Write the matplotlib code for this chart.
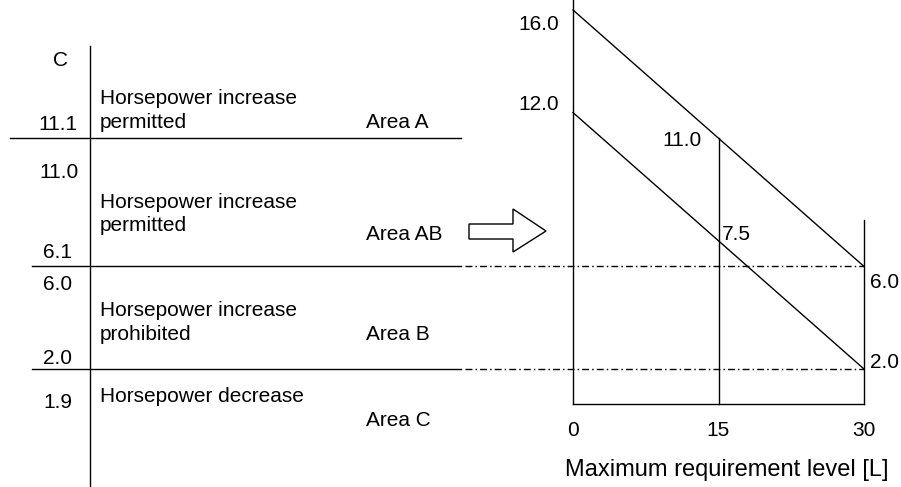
import matplotlib
matplotlib.use("Agg")
import matplotlib.pyplot as plt  # noqa: E402
from matplotlib.patches import Polygon  # noqa: E402
from matplotlib.transforms import blended_transform_factory  # noqa: E402

plt.rcParams["font.family"] = ["Liberation Sans", "DejaVu Sans"]

# ---- data -----------------------------------------------------------------
C_LABELS = ["11.1", "11.0", "6.1", "6.0", "2.0", "1.9"]
BOUNDS = [11.0, 6.0, 2.0]                       # area boundaries on the C scale
REGION_TEXT = ["Horsepower increase\npermitted",
               "Horsepower increase\npermitted",
               "Horsepower increase\nprohibited",
               "Horsepower decrease"]
AREA_NAMES = ["Area A", "Area AB", "Area B", "Area C"]

L_TICKS = [0, 15, 30]
UPPER_X, UPPER_Y = [0, 30], [16.0, 6.0]
LOWER_X, LOWER_Y = [0, 30], [12.0, 2.0]
MID_L, MID_C = 15, 11.0                          # vertical at L=15 up to upper line
LEFT_LABELS = ["16.0", "12.0"]
MID_LABELS = ["11.0", "7.5"]
RIGHT_LABELS = ["6.0", "2.0"]
XLABEL = "Maximum requirement level [L]"

FS = 15
LW = 1.0
W, H = 901, 487

fig = plt.figure(figsize=(W / 100, H / 100), dpi=100)

# background axes in pixel units (layout of the left table)
bg = fig.add_axes([0, 0, 1, 1])
bg.set_xlim(0, W)
bg.set_ylim(H, 0)
bg.axis("off")

# chart axes: L -> x, C -> y (0 at px 573, 30 at px 864; 16 at px 10, 2 at px 369)
kx = (864 - 573) / 30
ky = (369 - 10) / 14
ax = fig.add_axes([0, 0, 1, 1])
ax.set_xlim(-573 / kx, (W - 573) / kx)
ax.set_ylim(2 - (H - 369) / ky, 16 + 10 / ky)
ax.axis("off")
ax.patch.set_alpha(0)

tr = blended_transform_factory(bg.transData, ax.transData)
ytr = blended_transform_factory(ax.transData, bg.transData)

# ---- left table ------------------------------------------------------------
bg.plot([90, 90], [46, H], color="black", lw=LW)
bg.text(60, 61, "C", ha="center", va="center", fontsize=FS)
line_x0 = [10, 32, 32]
for b, x0 in zip(BOUNDS, line_x0):
    ax.plot([x0, 461], [b, b], color="black", lw=LW, transform=tr, clip_on=False)

c_pos = [(77, 124), (79, 173), (72, 252), (72, 285), (72, 358), (72, 403)]
for lab, (x, y) in zip(C_LABELS, c_pos):
    bg.text(x, y, lab, ha="right", va="center", fontsize=FS)

reg_y = [110.5, 214, 322.5, 397]
for txt, y in zip(REGION_TEXT, reg_y):
    bg.text(100, y, txt, ha="left", va="center", fontsize=FS, linespacing=1.3)

area_y = [122, 235, 335, 420]
for name, y in zip(AREA_NAMES, area_y):
    bg.text(366, y, name, ha="left", va="center", fontsize=FS)

# hollow block arrow
arrow = [(469, 224), (513, 224), (513, 209), (546, 231), (513, 252),
         (513, 239), (469, 239)]
bg.add_patch(Polygon(arrow, closed=True, fill=False, edgecolor="black", lw=LW))

# ---- right chart -----------------------------------------------------------
bottom = 0.65
ax.plot([0, 0], [bottom, 16.5], color="black", lw=LW)
ax.plot([0, 30], [bottom, bottom], color="black", lw=LW)
ax.plot([30, 30], [bottom, 7.8], color="black", lw=LW)
ax.plot([MID_L, MID_L], [bottom, MID_C], color="black", lw=LW)
ax.plot(UPPER_X, UPPER_Y, color="black", lw=LW)
ax.plot(LOWER_X, LOWER_Y, color="black", lw=LW)
for c in RIGHT_LABELS:
    ax.plot([-11.1, 30], [float(c), float(c)], color="black", lw=LW,
            dashes=(5.0, 2.2, 1.1, 2.2))

for lab, y in zip(LEFT_LABELS, [25, 105]):
    bg.text(559, y, lab, ha="right", va="center", fontsize=FS)
bg.text(702, 140, MID_LABELS[0], ha="right", va="center", fontsize=FS)
bg.text(722, 235, MID_LABELS[1], ha="left", va="center", fontsize=FS)
for lab, y in zip(RIGHT_LABELS, [283, 362]):
    bg.text(870, y, lab, ha="left", va="center", fontsize=FS)

for t in L_TICKS:
    ax.text(t, 430, str(t), ha="center", va="center", fontsize=FS, transform=ytr)
bg.text(727, 470, XLABEL, ha="center", va="center", fontsize=17)

fig.savefig("out.png", dpi=100)
